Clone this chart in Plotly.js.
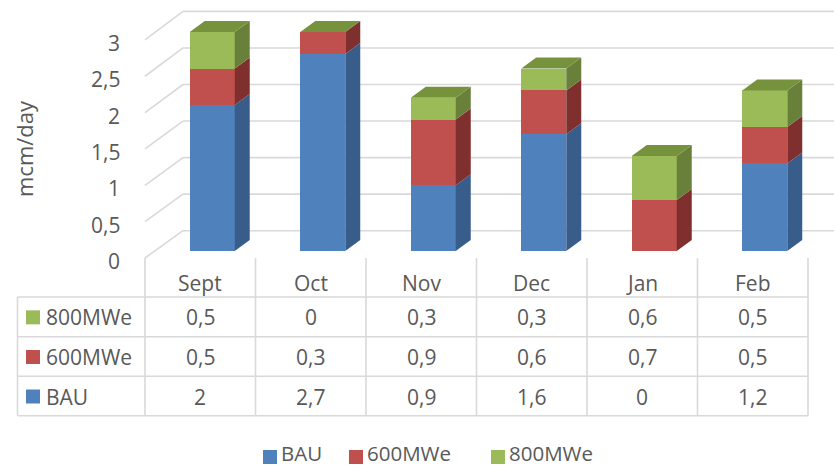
<!DOCTYPE html>
<html>
<head>
<meta charset="utf-8">
<script src="https://cdn.plot.ly/plotly-3.0.1.min.js"></script>
<style>html,body{margin:0;padding:0;background:#fff;}#chart{width:834px;height:468px;}</style>
</head>
<body>
<div id="chart"></div>
<script>
// ---- data ----
const categories = ['Sept', 'Oct', 'Nov', 'Dec', 'Jan', 'Feb'];
const bau = [2, 2.7, 0.9, 1.6, 0, 1.2];
const mw600 = [0.5, 0.3, 0.9, 0.6, 0.7, 0.5];
const mw800 = [0.5, 0, 0.3, 0.3, 0.6, 0.5];
const seriesNames = ['BAU', '600MWe', '800MWe'];
const yTicks = [0, 0.5, 1, 1.5, 2, 2.5, 3];
const yTickLabels = ['0', '0,5', '1', '1,5', '2', '2,5', '3'];
const yTitle = 'mcm/day';

// ---- styles / geometry ----
const W = 834, H = 468;
const frontCol = ['#4F81BD', '#C0504D', '#9BBB59'];
const sideCol = ['#385D8A', '#7F302E', '#68803A'];
const topCol = '#76923C';
const txt = '#595959';
const grid = '#D9D9D9';
const FONT = 'Open Sans, sans-serif';
const FS = 21;

const colLeft = 145, colW = 110.5;     // table columns in pixels
const baseY = 251, pxPerUnit = 73;     // front face scale
const barOffPx = 12, barWPx = 45;      // front face offset / width
const dxPx = 15, dyPx = 11;            // bar depth
const dxU = dxPx / colW, dyU = dyPx / pxPerUnit;
const barOff = barOffPx / colW, barW = barWPx / colW;

const px = p => p / W;
const py = p => 1 - p / H;

const series = [bau, mw600, mw800];
const traces = [];

// front faces (stacked bars)
series.forEach((vals, s) => {
  traces.push({
    type: 'bar',
    x: categories.map((c, i) => i + barOff),
    y: vals,
    width: barW,
    name: seriesNames[s],
    marker: {color: frontCol[s], line: {width: 0}},
    showlegend: false,
    hoverinfo: 'skip'
  });
});

// side and top faces computed from the stacked data
categories.forEach((c, i) => {
  const xr = i + barOff + barW / 2;
  const xl = i + barOff - barW / 2;
  let b = 0;
  series.forEach((vals, s) => {
    const t = b + vals[i];
    if (vals[i] > 0) {
      traces.push({
        type: 'scatter', mode: 'lines', fill: 'toself',
        x: [xr, xr + dxU, xr + dxU, xr, xr],
        y: [b, b + dyU, t + dyU, t, b],
        fillcolor: sideCol[s], line: {width: 0, color: sideCol[s]},
        showlegend: false, hoverinfo: 'skip'
      });
    }
    b = t;
  });
  traces.push({
    type: 'scatter', mode: 'lines', fill: 'toself',
    x: [xl, xl + dxU, xr + dxU, xr, xl],
    y: [b, b + dyU, b + dyU, b, b],
    fillcolor: topCol, line: {width: 0, color: topCol},
    showlegend: false, hoverinfo: 'skip'
  });
});

const shapes = [];
const annotations = [];
const line = (x0, y0, x1, y1, w) => shapes.push({
  type: 'line', xref: 'paper', yref: 'paper', layer: 'below',
  x0: px(x0), y0: py(y0), x1: px(x1), y1: py(y1),
  line: {color: grid, width: w || 1.6}
});

// walls: back wall gridlines and left wall diagonals
yTicks.forEach((v, k) => {
  const yb = 230.7 - 73.1 * v;
  const yf = 258 - 72.7 * v;
  line(183, yb, W, yb);
  line(145, yf, 183, yb);
  annotations.push({
    xref: 'paper', yref: 'paper', x: px(122), y: py(261 - 72.7 * v),
    xanchor: 'right', yanchor: 'middle', showarrow: false,
    text: yTickLabels[k], font: {family: FONT, size: FS, color: txt}
  });
});

// y title
annotations.push({
  xref: 'paper', yref: 'paper', x: px(24), y: py(149),
  xanchor: 'center', yanchor: 'middle', showarrow: false, textangle: -90,
  text: yTitle, font: {family: FONT, size: 22, color: txt}
});

// data table
const tLeft = 17.5, hdrTop = 258, rowTops = [297, 336.7, 376.3, 415.7];
const tRight = colLeft + categories.length * colW;
for (let k = 0; k <= categories.length; k++) {
  const x = colLeft + k * colW;
  line(x, hdrTop, x, rowTops[3]);
}
line(tLeft, rowTops[0], tLeft, rowTops[3]);
rowTops.forEach(y => line(tLeft, y, tRight, y));

categories.forEach((c, i) => {
  annotations.push({
    xref: 'paper', yref: 'paper', x: px(colLeft + (i + 0.5) * colW), y: py(283),
    xanchor: 'center', yanchor: 'middle', showarrow: false,
    text: c, font: {family: FONT, size: FS, color: txt}
  });
});
const fmt = v => String(v).replace('.', ',');
const rowOrder = [2, 1, 0]; // 800MWe, 600MWe, BAU
rowOrder.forEach((s, r) => {
  const yc = (rowTops[r] + rowTops[r + 1]) / 2 + 0.5;
  shapes.push({
    type: 'rect', xref: 'paper', yref: 'paper',
    x0: px(26), x1: px(40), y0: py(yc - 7), y1: py(yc + 7),
    fillcolor: frontCol[s], line: {width: 0}
  });
  annotations.push({
    xref: 'paper', yref: 'paper', x: px(44), y: py(yc),
    xanchor: 'left', yanchor: 'middle', showarrow: false,
    text: seriesNames[s], font: {family: FONT, size: FS, color: txt}
  });
  series[s].forEach((v, i) => {
    annotations.push({
      xref: 'paper', yref: 'paper', x: px(colLeft + (i + 0.5) * colW), y: py(yc),
      xanchor: 'center', yanchor: 'middle', showarrow: false,
      text: fmt(v), font: {family: FONT, size: FS, color: txt}
    });
  });
});

// bottom legend
const legX = [263, 349, 491];
seriesNames.forEach((n, s) => {
  const yc = 457;
  shapes.push({
    type: 'rect', xref: 'paper', yref: 'paper',
    x0: px(legX[s]), x1: px(legX[s] + 14), y0: py(yc - 7), y1: py(yc + 7),
    fillcolor: frontCol[s], line: {width: 0}
  });
  annotations.push({
    xref: 'paper', yref: 'paper', x: px(legX[s] + 16), y: py(yc - 4),
    xanchor: 'left', yanchor: 'middle', showarrow: false,
    text: n, font: {family: FONT, size: 20.5, color: txt}
  });
});

const layout = {
  width: W, height: H,
  margin: {l: 0, r: 0, t: 0, b: 0, pad: 0},
  paper_bgcolor: '#fff', plot_bgcolor: 'rgba(0,0,0,0)',
  barmode: 'stack', bargap: 0,
  showlegend: false,
  xaxis: {range: [(0 - colLeft) / colW - 0.5, (W - colLeft) / colW - 0.5], visible: false, fixedrange: true},
  yaxis: {range: [(baseY - H) / pxPerUnit, baseY / pxPerUnit], visible: false, fixedrange: true},
  shapes: shapes,
  annotations: annotations
};

Plotly.newPlot('chart', traces, layout, {displayModeBar: false, staticPlot: true});
</script>
</body>
</html>
